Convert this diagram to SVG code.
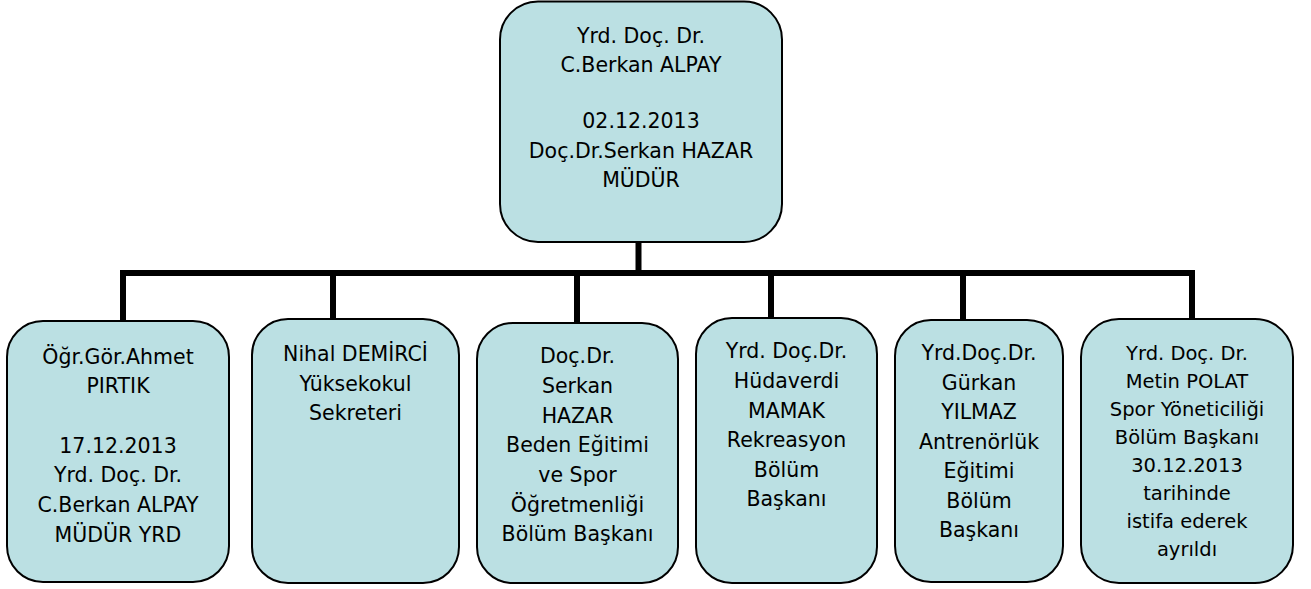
<svg xmlns="http://www.w3.org/2000/svg" width="1311" height="589" viewBox="0 0 1311 589">
<style>
.box{fill:#BBE0E3;stroke:#000;stroke-width:2}
.t{font-family:"DejaVu Sans","Liberation Sans",sans-serif;font-size:20.5px;fill:#000;text-anchor:middle}
.s{font-size:19.5px}
.c{stroke:#000;stroke-width:6;fill:none;stroke-linecap:butt}
</style>
<rect width="1311" height="589" fill="#fff"/>
<g id="connectors">
<line class="c" x1="638.5" y1="242" x2="638.5" y2="273"/>
<line class="c" x1="120" y1="273" x2="1195" y2="273"/>
<line class="c" x1="123" y1="273" x2="123" y2="322"/>
<line class="c" x1="333" y1="273" x2="333" y2="320"/>
<line class="c" x1="577" y1="270" x2="577" y2="324"/>
<line class="c" x1="771" y1="273" x2="771" y2="319"/>
<line class="c" x1="963" y1="273" x2="963" y2="321"/>
<line class="c" x1="1192" y1="273" x2="1192" y2="320"/>
</g>
<g id="director">
<rect class="box" x="500" y="1.5" width="282" height="240.5" rx="38"/>
<text class="t" x="641"><tspan x="641" y="43">Yrd. Doç. Dr.</tspan><tspan x="641" y="72">C.Berkan ALPAY</tspan><tspan x="641" y="128">02.12.2013</tspan><tspan x="641" y="158">Doç.Dr.Serkan HAZAR</tspan><tspan x="641" y="187">MÜDÜR</tspan></text>
</g>
<g id="node1">
<rect class="box" x="7" y="321" width="222" height="261" rx="36"/>
<text class="t"><tspan x="118" y="363.5">Öğr.Gör.Ahmet</tspan><tspan x="118" y="393">PIRTIK</tspan><tspan x="118" y="452.5">17.12.2013</tspan><tspan x="118" y="482">Yrd. Doç. Dr.</tspan><tspan x="118" y="512">C.Berkan ALPAY</tspan><tspan x="118" y="541.5">MÜDÜR YRD</tspan></text>
</g>
<g id="node2">
<rect class="box" x="252" y="319" width="207" height="264" rx="36"/>
<text class="t"><tspan x="355.5" y="361">Nihal DEMİRCİ</tspan><tspan x="355.5" y="390.5">Yüksekokul</tspan><tspan x="355.5" y="420">Sekreteri</tspan></text>
</g>
<g id="node3">
<rect class="box" x="477" y="323" width="201" height="260" rx="36"/>
<text class="t"><tspan x="577.5" y="363">Doç.Dr.</tspan><tspan x="577.5" y="393">Serkan</tspan><tspan x="577.5" y="422.5">HAZAR</tspan><tspan x="577.5" y="452">Beden Eğitimi</tspan><tspan x="577.5" y="482">ve Spor</tspan><tspan x="577.5" y="511.5">Öğretmenliği</tspan><tspan x="577.5" y="541">Bölüm Başkanı</tspan></text>
</g>
<g id="node4">
<rect class="box" x="696" y="318" width="181" height="265" rx="36"/>
<text class="t"><tspan x="786.5" y="358">Yrd. Doç.Dr.</tspan><tspan x="786.5" y="388">Hüdaverdi</tspan><tspan x="786.5" y="417.5">MAMAK</tspan><tspan x="786.5" y="447">Rekreasyon</tspan><tspan x="786.5" y="476.5">Bölüm</tspan><tspan x="786.5" y="506">Başkanı</tspan></text>
</g>
<g id="node5">
<rect class="box" x="895" y="320" width="168" height="262" rx="36"/>
<text class="t"><tspan x="979" y="360">Yrd.Doç.Dr.</tspan><tspan x="979" y="389.5">Gürkan</tspan><tspan x="979" y="419">YILMAZ</tspan><tspan x="979" y="448.5">Antrenörlük</tspan><tspan x="979" y="478">Eğitimi</tspan><tspan x="979" y="507.5">Bölüm</tspan><tspan x="979" y="537">Başkanı</tspan></text>
</g>
<g id="node6">
<rect class="box" x="1081" y="319" width="212" height="264" rx="38"/>
<text class="t s"><tspan x="1187" y="360">Yrd. Doç. Dr.</tspan><tspan x="1187" y="388">Metin POLAT</tspan><tspan x="1187" y="416">Spor Yöneticiliği</tspan><tspan x="1187" y="444">Bölüm Başkanı</tspan><tspan x="1187" y="472">30.12.2013</tspan><tspan x="1187" y="500">tarihinde</tspan><tspan x="1187" y="528">istifa ederek</tspan><tspan x="1187" y="556">ayrıldı</tspan></text>
</g>
</svg>
